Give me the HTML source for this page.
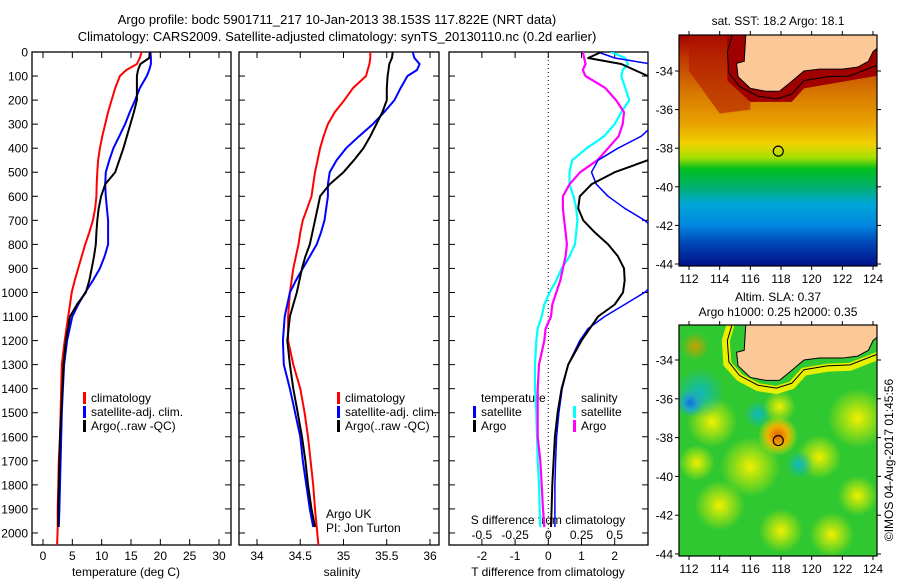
<!DOCTYPE html>
<html><head><meta charset="utf-8"><style>
body{margin:0;background:#fff;}
svg{display:block;font-family:"Liberation Sans",sans-serif;}
text{fill:#000;}
</style></head><body>
<svg id="fig" width="900" height="580" viewBox="0 0 900 580">
<defs>
<clipPath id="c1"><rect x="32" y="52" width="199" height="493"/></clipPath>
<clipPath id="c2"><rect x="239" y="52" width="200" height="493"/></clipPath>
<clipPath id="c3"><rect x="449" y="52" width="199" height="493"/></clipPath>
<clipPath id="m1"><rect x="679" y="35" width="198" height="231"/></clipPath>
<clipPath id="m2"><rect x="679" y="325" width="198" height="231"/></clipPath>
<linearGradient id="sstg" x1="0" y1="0" x2="0" y2="1">
<stop offset="0" stop-color="#a00000"/><stop offset="0.1" stop-color="#c03800"/>
<stop offset="0.25" stop-color="#d87800"/><stop offset="0.38" stop-color="#e8a000"/>
<stop offset="0.47" stop-color="#f0d000"/><stop offset="0.53" stop-color="#a8e000"/>
<stop offset="0.58" stop-color="#00c020"/><stop offset="0.66" stop-color="#00b070"/>
<stop offset="0.73" stop-color="#00a8d8"/><stop offset="0.82" stop-color="#0088e0"/>
<stop offset="0.9" stop-color="#0048b8"/><stop offset="1" stop-color="#001088"/>
</linearGradient>
<radialGradient id="bY"><stop offset="0" stop-color="#f0f000"/><stop offset="1" stop-color="#f0f000" stop-opacity="0"/></radialGradient>
<radialGradient id="bO"><stop offset="0" stop-color="#e06000"/><stop offset="0.5" stop-color="#f0b000"/><stop offset="1" stop-color="#f0e000" stop-opacity="0"/></radialGradient>
<radialGradient id="bC"><stop offset="0" stop-color="#10b8c0"/><stop offset="1" stop-color="#10b8c0" stop-opacity="0"/></radialGradient>
<radialGradient id="bB"><stop offset="0" stop-color="#1070e0"/><stop offset="0.5" stop-color="#20a8c0"/><stop offset="1" stop-color="#20b0a0" stop-opacity="0"/></radialGradient>
<radialGradient id="bD"><stop offset="0" stop-color="#c8a000"/><stop offset="1" stop-color="#c8a000" stop-opacity="0"/></radialGradient>
</defs>
<g id="root"></g>
</svg>
<script>
const depths=[0,25,50,75,100,150,200,250,300,350,400,450,500,550,600,650,700,750,800,850,900,950,1000,1050,1100,1200,1300,1400,1500,1600,1700,1800,1900,1975,2050];
const tempClim=[16.8,16.5,16.0,14.2,13.1,12.3,11.7,11.1,10.6,10.1,9.7,9.4,9.25,9.15,9.1,8.9,8.5,7.9,7.2,6.6,6.0,5.4,4.9,4.6,4.3,3.7,3.2,3.1,3.0,2.9,2.7,2.6,2.5,2.5,2.4];
const tempSat=[18.3,18.4,18.4,18.1,17.7,16.5,15.7,14.8,14.0,13.0,12.0,11.3,10.7,10.6,10.7,10.9,11.1,11.1,11.1,10.5,9.7,8.5,7.2,6.0,5.0,4.1,3.6,3.4,3.2,3.1,3.0,2.9,2.8,2.7,null];
const tempArgo=[18.2,18.1,16.6,16.2,16.0,16.0,16.0,15.5,14.9,14.3,13.7,13.0,12.3,10.6,9.9,9.5,9.25,9.1,9.0,8.7,8.3,7.9,7.3,5.8,4.6,3.9,3.5,3.3,3.1,2.9,2.8,2.7,2.6,2.6,null];
const salClim=[35.31,35.31,35.30,35.28,35.26,35.11,35.01,34.90,34.82,34.77,34.73,34.70,34.67,34.65,34.63,34.58,34.53,34.50,34.48,34.45,34.42,34.40,34.38,34.37,34.36,34.36,34.42,34.50,34.55,34.59,34.62,34.65,34.67,34.69,34.71];
const salSat=[35.80,35.82,35.88,35.85,35.74,35.66,35.59,35.47,35.34,35.18,35.03,34.92,34.84,34.82,34.82,34.80,34.78,34.74,34.69,34.61,34.53,34.45,34.38,34.35,34.32,34.30,34.31,34.38,34.44,34.50,34.53,34.57,34.61,34.65,null];
const salArgo=[35.57,35.56,35.53,35.52,35.51,35.50,35.50,35.45,35.38,35.31,35.23,35.12,35.00,34.84,34.73,34.70,34.67,34.64,34.61,34.56,34.52,34.49,34.46,34.42,34.38,34.35,34.38,34.42,34.47,34.52,34.56,34.59,34.63,34.67,null];
const diffDepths=[0,25,50,75,100,150,200,250,300,350,400,450,500,550,600,650,700,750,800,850,900,950,1000,1050,1100,1150,1200,1300,1400,1500,1600,1700,1800,1900,1975];
const tDiffArgo=[1.6,1.2,2.2,2.6,3.0,3.6,4.0,4.2,4.3,4.0,3.5,3.0,2.0,1.3,0.95,0.9,1.05,1.4,1.8,2.1,2.28,2.3,2.25,2.0,1.5,1.25,1.0,0.6,0.4,0.28,0.2,0.16,0.12,0.1,0.08];
const tDiffSat=[1.5,2.0,3.1,3.6,4.0,4.3,4.0,3.6,3.2,2.8,2.1,1.5,1.3,1.45,1.8,2.3,2.9,3.3,3.6,3.7,3.6,3.3,2.9,2.3,1.7,1.2,0.95,0.6,0.42,0.32,0.25,0.22,0.2,0.2,0.2];
const sDiffArgo=[0.26,0.27,0.28,0.26,0.28,0.43,0.51,0.57,0.56,0.53,0.45,0.37,0.24,0.16,0.11,0.11,0.12,0.13,0.14,0.13,0.11,0.09,0.06,0.03,0.02,-0.02,-0.03,-0.07,-0.08,-0.08,-0.08,-0.06,-0.05,-0.04,-0.03];
const sDiffSat=[0.47,0.58,0.6,0.56,0.55,0.58,0.61,0.55,0.5,0.42,0.29,0.18,0.16,0.16,0.19,0.21,0.22,0.21,0.2,0.16,0.1,0.06,0.01,-0.03,-0.05,-0.08,-0.09,-0.1,-0.1,-0.09,-0.085,-0.08,-0.07,-0.065,-0.06];
const depthTicks=[0,100,200,300,400,500,600,700,800,900,1000,1100,1200,1300,1400,1500,1600,1700,1800,1900,2000];
const tempTicks=[0,5,10,15,20,25,30];
const salTicks=[34,34.5,35,35.5,36];
const salTickLabels=["34","34.5","35","35.5","36"];
const tdiffTicks=[-2,-1,0,1,2];
const sdiffTicks=[-0.5,-0.25,0,0.25,0.5];
const sdiffLabels=["-0.5","-0.25","0","0.25","0.5"];
const lonTicks=[112,114,116,118,120,122,124];
const latTicks=[-34,-36,-38,-40,-42,-44];
const floatLon=117.822, floatLat=-38.153;

const NS="http://www.w3.org/2000/svg";
const root=document.getElementById('root');
function el(tag,attrs,parent){const e=document.createElementNS(NS,tag);for(const k in attrs)e.setAttribute(k,attrs[k]);(parent||root).appendChild(e);return e;}
function txt(x,y,s,anchor,size,parent){const t=el('text',{x:x,y:y,'text-anchor':anchor||'middle','font-size':size||12},parent);t.textContent=s;return t;}
const Y0=52,Y1=545;
const yD=d=>Y0+(d/2050)*(Y1-Y0);
function lin(d0,d1,r0,r1){return v=>r0+(v-d0)/(d1-d0)*(r1-r0);}
const xT=lin(0,30,43,219);
const xS=lin(34,36,257,430);
const xTd=lin(0,1,548.3,581.5);
const xSd=lin(0,0.25,548.3,581.5);

function frame(x0,x1,name,leftLabels){
  const g=el('g',{});
  
  
  el('rect',{x:x0,y:Y0,width:x1-x0,height:Y1-Y0,fill:'none',stroke:'#000','stroke-width':1.3},g);
  depthTicks.forEach(d=>{const y=yD(d);
    el('line',{x1:x0,x2:x0+6,y1:y,y2:y,stroke:'#000'},g);
    el('line',{x1:x1-6,x2:x1,y1:y,y2:y,stroke:'#000'},g);
    if(leftLabels){const t=txt(x0-4,y+4.5,String(d),'end',12,g);}
  });
  return g;
}
function xticks(g,vals,labels,sc,y,nm){
  vals.forEach((v,i)=>{const x=sc(v);
    el('line',{x1:x,x2:x,y1:Y1,y2:Y1-6,stroke:'#000'},g);
    el('line',{x1:x,x2:x,y1:Y0,y2:Y0+6,stroke:'#000'},g);
    const t=txt(x,y,labels[i],'middle',12,g);
    
    
  });
}
function line(vals,dep,sc,color,w,clip,name){
  let pts=[];
  vals.forEach((v,i)=>{if(v!==null&&!isNaN(v))pts.push(sc(v).toFixed(1)+','+yD(dep[i]).toFixed(1));});
  const p=el('polyline',{points:pts.join(' '),fill:'none',stroke:color,'stroke-width':w,'clip-path':'url(#'+clip+')','stroke-linejoin':'round'});
  
  
}
function legend(g,x,y,items){
  items.forEach((it,i)=>{const yy=y+i*14;
    el('rect',{x:x,y:yy-10,width:3,height:12,fill:it[0]},g);
    const t=txt(x+8,yy,it[1],'start',12,g);
    
    
  });
}

let t=txt(337,24,"Argo profile: bodc 5901711_217 10-Jan-2013 38.153S 117.822E (NRT data)",'middle',13);

t=txt(337,41,"Climatology: CARS2009. Satellite-adjusted climatology: synTS_20130110.nc (0.2d earlier)",'middle',13);


let g1=frame(32,231,'temperature-panel',true);
xticks(g1,tempTicks,tempTicks.map(String),xT,560,'temperature-tick-label');
t=txt(126,576,"temperature (deg C)",'middle',12,g1);
line(tempClim,depths,xT,'#f00',2,'c1','temp-climatology-line');
line(tempSat,depths,xT,'#00f',2,'c1','temp-satellite-line');
line(tempArgo,depths,xT,'#000',2,'c1','temp-argo-line');
legend(g1,83,402,[['#f00','climatology'],['#00f','satellite-adj. clim.'],['#000','Argo(..raw -QC)']]);

let g2=frame(239,439,'salinity-panel',false);
xticks(g2,salTicks,salTickLabels,xS,560,'salinity-tick-label');
t=txt(342,576,"salinity",'middle',12,g2);
line(salClim,depths,xS,'#f00',2,'c2','sal-climatology-line');
line(salSat,depths,xS,'#00f',2,'c2','sal-satellite-line');
line(salArgo,depths,xS,'#000',2,'c2','sal-argo-line');
legend(g2,337,402,[['#f00','climatology'],['#00f','satellite-adj. clim.'],['#000','Argo(..raw -QC)']]);
t=txt(326,518,"Argo UK",'start',12,g2);
t=txt(326,532,"PI: Jon Turton",'start',12,g2);

let g3=frame(449,648,'difference-panel',false);
xticks(g3,tdiffTicks,tdiffTicks.map(String),xTd,560,'t-difference-tick-label');
sdiffTicks.forEach((v,i)=>{const tt=txt(xSd(v),539,sdiffLabels[i],'middle',12,g3);});
t=txt(548,524,"S difference from climatology",'middle',12,g3);
t=txt(548,576,"T difference from climatology",'middle',12,g3);
el('line',{x1:548.3,x2:548.3,y1:Y0,y2:Y1,stroke:'#000','stroke-dasharray':'1,3'},g3);
line(sDiffSat,diffDepths,xSd,'#0ff',2.2,'c3','s-diff-satellite-line');
line(sDiffArgo,diffDepths,xSd,'#f0f',2.2,'c3','s-diff-argo-line');
line(tDiffSat,diffDepths,xTd,'#00f',1.5,'c3','t-diff-satellite-line');
line(tDiffArgo,diffDepths,xTd,'#000',2,'c3','t-diff-argo-line');
t=txt(481,402,"temperature",'start',12,g3);
t=txt(581,402,"salinity",'start',12,g3);
legend(g3,473,416,[['#00f','satellite'],['#000','Argo']]);
legend(g3,573,416,[['#0ff','satellite'],['#f0f','Argo']]);

const mx=lin(112,124,689,873);
function mapFrame(y0,y1,yLat,name,title1,title2,fillFn){
  const g=el('g',{});
  
  
  const clip=y0<100?'m1':'m2';
  const inner=el('g',{'clip-path':'url(#'+clip+')'},g);
  fillFn(inner,yLat);
  const land=[[115.7,-31],[115.7,-32.2],[115.6,-33.5],[115.1,-33.6],[115.2,-34.3],[116,-34.9],[117,-35.05],[117.9,-35.05],[118.6,-34.6],[119.5,-34.0],[120.5,-33.9],[122,-33.9],[123,-33.8],[123.7,-33.5],[124.0,-33.0],[124.6,-32.6],[124.6,-31]];
  const cont=[[114.8,-31],[114.8,-32.2],[114.5,-33.0],[114.6,-34.1],[115.3,-34.8],[116.5,-35.3],[117.7,-35.45],[118.7,-35.2],[119.5,-34.5],[121,-34.3],[122.5,-34.25],[124.6,-33.6]];
  const p=el('polygon',{points:land.map(q=>mx(q[0])+','+yLat(q[1])).join(' '),fill:'#fcc898',stroke:'#000','stroke-width':1},inner);
  
  el('polyline',{points:cont.map(q=>mx(q[0])+','+yLat(q[1])).join(' '),fill:'none',stroke:'#000','stroke-width':1},inner);
  const c=el('circle',{cx:mx(floatLon),cy:yLat(floatLat),r:5,fill:'none',stroke:'#000','stroke-width':1.2},inner);
  
  el('rect',{x:679,y:y0,width:198,height:y1-y0,fill:'none',stroke:'#000','stroke-width':1.2},g);
  lonTicks.forEach(v=>{const x=mx(v);
    el('line',{x1:x,x2:x,y1:y1,y2:y1+4,stroke:'#000'},g);
    el('line',{x1:x,x2:x,y1:y0,y2:y0-4,stroke:'#000'},g);
    const tt=txt(x,y1+17,String(v),'middle',12,g);});
  latTicks.forEach(v=>{const y=yLat(v);
    el('line',{x1:877,x2:881,y1:y,y2:y,stroke:'#000'},g);
    el('line',{x1:675,x2:679,y1:y,y2:y,stroke:'#000'},g);
    const tt=txt(673,y+4.5,String(v),'end',12,g);});
  let a=txt(778,title2?y0-24:y0-10,title1,'middle',12,g);
  if(title2){a=txt(778,y0-9,title2,'middle',12,g);}
}
const yLat1=lin(-34,-44,71,264);
mapFrame(35,266,yLat1,'sst-map',"sat. SST: 18.2  Argo: 18.1",null,(g,yl)=>{
  el('rect',{x:679,y:35,width:198,height:231,fill:'url(#sstg)'},g);
  el('polygon',{points:[[112,-31],[116,-31],[116,-36],[114,-36.2],[112,-34]].map(q=>mx(q[0])+','+yl(q[1])).join(' '),fill:'#b01800',opacity:0.6},g);
  el('polygon',{points:[[114.5,-31],[114.5,-34.5],[116,-35.6],[118.7,-35.6],[119.5,-34.9],[124.6,-34.2],[124.6,-31]].map(q=>mx(q[0])+','+yl(q[1])).join(' '),fill:'#a00000'},g);
});
const yLat2=lin(-34,-44,360,554);
mapFrame(325,556,yLat2,'sla-map',"Altim. SLA: 0.37","Argo h1000: 0.25 h2000: 0.35",(g,yl)=>{
  el('rect',{x:679,y:325,width:198,height:231,fill:'#30c830'},g);
  const blobs=[['bY',113.5,-37.2,25],['bY',114,-41.5,25],['bY',118,-42.8,22],['bY',121.3,-43,22],['bY',123,-37,30],['bY',116,-39.5,30],['bY',120.5,-39,22],['bY',112.5,-39.3,18],['bY',123,-41,20],['bC',112.7,-35.7,25],['bB',112.1,-36.2,14],['bC',119.2,-39.4,14],['bC',116.5,-36.8,14],['bD',112.4,-33.3,14],['bO',117.8,-37.9,20],['bY',117.9,-36.4,16]];
  blobs.forEach(b=>{el('circle',{cx:mx(b[1]),cy:yl(b[2]),r:b[3],fill:'url(#'+b[0]+')'},g);});
  el('polyline',{points:[[114.7,-31],[114.7,-32.2],[114.4,-33.0],[114.5,-34.2],[115.3,-34.9],[116.5,-35.4],[117.7,-35.55],[118.7,-35.3],[119.5,-34.6],[121,-34.4],[122.5,-34.35],[124.6,-33.7]].map(q=>mx(q[0])+','+yl(q[1])).join(' '),fill:'none',stroke:'#e8f000','stroke-width':8},g);
});
t=txt(0,0,"©IMOS 04-Aug-2017 01:45:56",'middle',12);
t.setAttribute('transform','translate(893,460) rotate(-90)');

</script>
</body></html>
